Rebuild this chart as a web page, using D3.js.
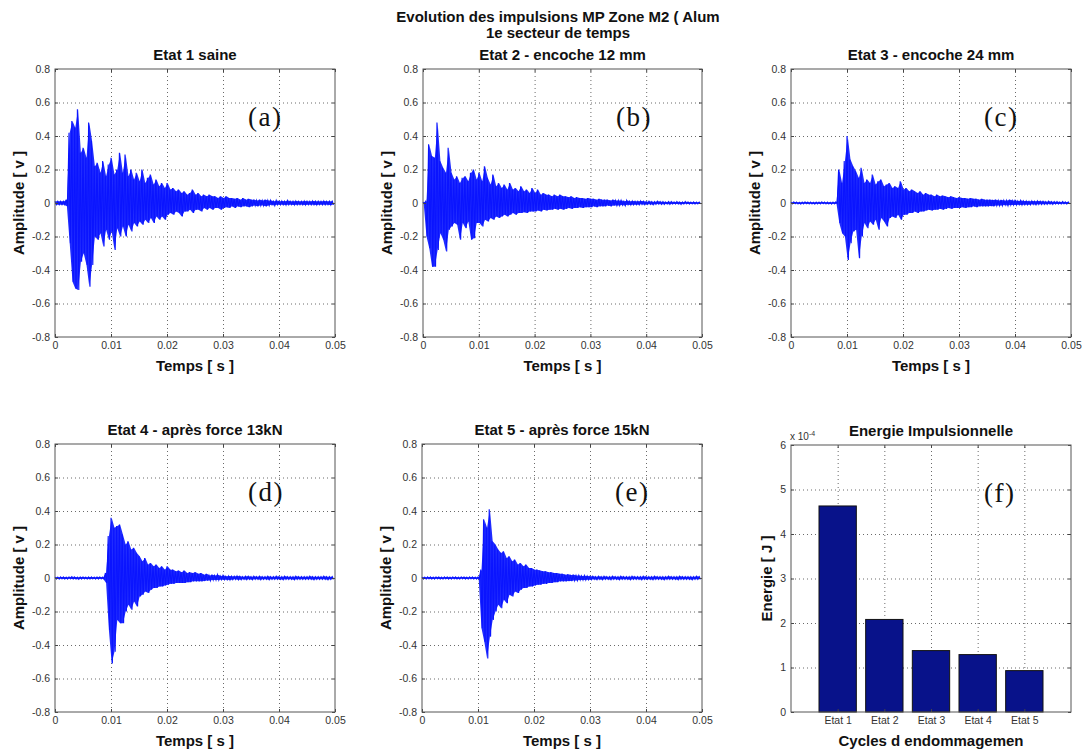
<!DOCTYPE html>
<html><head><meta charset="utf-8">
<script src="https://cdn.jsdelivr.net/npm/d3@7"></script>
<style>body{margin:0;background:#fff}svg{display:block}</style>
</head><body>
<script>
// ---------------- DATA ----------------
const binStep = 0.0005; // s, one hi/lo pair read per bin
const timeTicks = [0, 0.01, 0.02, 0.03, 0.04, 0.05];
const timeTickLabels = ["0", "0.01", "0.02", "0.03", "0.04", "0.05"];
const ampTicks = [-0.8, -0.6, -0.4, -0.2, 0, 0.2, 0.4, 0.6, 0.8];
const ampTickLabels = ["-0.8", "-0.6", "-0.4", "-0.2", "0", "0.2", "0.4", "0.6", "0.8"];

const suptitleLines = ["Evolution des impulsions MP Zone M2 ( Alum", "1e secteur de temps"];
const panelTitles = ["Etat 1 saine", "Etat 2 - encoche 12 mm", "Etat 3 - encoche 24 mm",
  "Etat 4 - après force 13kN", "Etat 5 - après force 15kN", "Energie Impulsionnelle"];
const panelLetters = ["(a)", "(b)", "(c)", "(d)", "(e)", "(f)"];

// Etat 1 saine
const sig1Hi = [0.01,0.01,0.01,0.01,0.02,0.42,0.49,0.45,0.56,0.30,
  0.33,0.27,0.48,0.37,0.22,0.24,0.18,0.25,0.16,0.23,
  0.27,0.17,0.20,0.30,0.18,0.29,0.16,0.20,0.14,0.18,
  0.13,0.20,0.12,0.15,0.17,0.11,0.14,0.10,0.12,0.09,
  0.12,0.08,0.09,0.07,0.08,0.06,0.07,0.05,0.06,0.08,
  0.05,0.06,0.04,0.05,0.04,0.05,0.04,0.04,0.03,0.04,
  0.03,0.04,0.03,0.03,0.025,0.03,0.02,0.03,0.02,0.025,
  0.02,0.02,0.015,0.02,0.015,0.02,0.015,0.015,0.01,0.015,
  0.01,0.012,0.01,0.015,0.01,0.01,0.012,0.01,0.01,0.012,
  0.01,0.01,0.012,0.01,0.01,0.01,0.012,0.01,0.01,0.01];
const sig1Lo = [-0.01,-0.01,-0.01,-0.01,-0.02,-0.24,-0.47,-0.51,-0.52,-0.35,
  -0.30,-0.37,-0.50,-0.37,-0.20,-0.22,-0.18,-0.26,-0.16,-0.22,
  -0.17,-0.28,-0.15,-0.20,-0.14,-0.20,-0.13,-0.17,-0.12,-0.14,
  -0.11,-0.13,-0.10,-0.12,-0.09,-0.12,-0.08,-0.10,-0.08,-0.10,
  -0.07,-0.06,-0.07,-0.05,-0.06,-0.08,-0.05,-0.05,-0.04,-0.06,
  -0.04,-0.04,-0.05,-0.03,-0.04,-0.03,-0.04,-0.03,-0.03,-0.04,
  -0.03,-0.025,-0.03,-0.02,-0.03,-0.02,-0.025,-0.02,-0.02,-0.025,
  -0.02,-0.015,-0.02,-0.015,-0.015,-0.02,-0.015,-0.01,-0.015,-0.01,
  -0.01,-0.01,-0.012,-0.01,-0.01,-0.012,-0.01,-0.01,-0.01,-0.012,
  -0.01,-0.01,-0.01,-0.012,-0.01,-0.01,-0.01,-0.01,-0.012,-0.01];

// Etat 2 - encoche 12 mm
const sig2Hi = [0.005,0.01,0.35,0.28,0.27,0.48,0.25,0.21,0.18,0.33,
  0.18,0.14,0.16,0.12,0.15,0.16,0.13,0.18,0.20,0.14,
  0.18,0.13,0.22,0.15,0.11,0.17,0.10,0.12,0.09,0.11,
  0.08,0.12,0.08,0.09,0.07,0.10,0.07,0.08,0.06,0.09,
  0.06,0.08,0.05,0.06,0.05,0.05,0.04,0.05,0.04,0.05,
  0.04,0.04,0.035,0.04,0.03,0.035,0.03,0.03,0.025,0.03,
  0.025,0.025,0.02,0.025,0.02,0.02,0.02,0.015,0.02,0.015,
  0.015,0.015,0.01,0.015,0.01,0.012,0.01,0.01,0.012,0.01,
  0.008,0.01,0.008,0.008,0.01,0.008,0.008,0.006,0.008,0.008,
  0.006,0.008,0.006,0.006,0.008,0.006,0.005,0.006,0.005,0.005];
const sig2Lo = [-0.005,-0.20,-0.27,-0.38,-0.38,-0.28,-0.18,-0.22,-0.29,-0.16,
  -0.14,-0.12,-0.13,-0.22,-0.12,-0.15,-0.11,-0.22,-0.21,-0.12,
  -0.12,-0.14,-0.10,-0.11,-0.09,-0.10,-0.08,-0.09,-0.08,-0.07,
  -0.08,-0.07,-0.06,-0.07,-0.06,-0.06,-0.055,-0.06,-0.05,-0.05,
  -0.05,-0.045,-0.05,-0.04,-0.045,-0.04,-0.04,-0.035,-0.04,-0.035,
  -0.04,-0.035,-0.03,-0.035,-0.03,-0.03,-0.025,-0.03,-0.025,-0.025,
  -0.025,-0.02,-0.025,-0.02,-0.02,-0.02,-0.015,-0.02,-0.015,-0.015,
  -0.015,-0.012,-0.015,-0.01,-0.012,-0.01,-0.01,-0.01,-0.008,-0.01,
  -0.008,-0.008,-0.01,-0.008,-0.006,-0.008,-0.008,-0.006,-0.008,-0.006,
  -0.006,-0.006,-0.008,-0.006,-0.005,-0.006,-0.005,-0.006,-0.005,-0.005];

// Etat 3 - encoche 24 mm
const sig3Hi = [0.005,0.006,0.005,0.004,0.005,0.006,0.005,0.005,0.004,0.005,
  0.005,0.006,0.005,0.005,0.004,0.005,0.006,0.20,0.12,0.25,
  0.40,0.26,0.22,0.19,0.15,0.21,0.12,0.14,0.12,0.17,
  0.11,0.13,0.14,0.10,0.11,0.12,0.09,0.10,0.09,0.13,
  0.08,0.09,0.07,0.08,0.07,0.06,0.07,0.05,0.06,0.05,
  0.05,0.04,0.05,0.04,0.045,0.04,0.035,0.04,0.035,0.03,
  0.035,0.03,0.03,0.025,0.03,0.025,0.025,0.02,0.025,0.02,
  0.02,0.02,0.018,0.02,0.015,0.018,0.015,0.015,0.02,0.015,
  0.015,0.012,0.015,0.012,0.012,0.01,0.012,0.01,0.012,0.01,
  0.01,0.008,0.01,0.008,0.008,0.008,0.006,0.008,0.006,0.006];
const sig3Lo = [-0.005,-0.004,-0.005,-0.006,-0.005,-0.004,-0.005,-0.005,-0.006,-0.005,
  -0.005,-0.004,-0.005,-0.005,-0.006,-0.005,-0.004,-0.12,-0.18,-0.20,
  -0.34,-0.24,-0.17,-0.16,-0.33,-0.20,-0.12,-0.15,-0.11,-0.13,
  -0.10,-0.16,-0.09,-0.11,-0.14,-0.09,-0.08,-0.09,-0.07,-0.10,
  -0.07,-0.07,-0.06,-0.06,-0.05,-0.06,-0.05,-0.05,-0.045,-0.04,
  -0.045,-0.04,-0.04,-0.035,-0.04,-0.035,-0.03,-0.035,-0.03,-0.03,
  -0.03,-0.025,-0.03,-0.025,-0.025,-0.02,-0.025,-0.02,-0.02,-0.02,
  -0.02,-0.018,-0.02,-0.015,-0.015,-0.015,-0.012,-0.015,-0.012,-0.012,
  -0.012,-0.01,-0.012,-0.01,-0.01,-0.01,-0.008,-0.01,-0.008,-0.008,
  -0.008,-0.008,-0.006,-0.008,-0.006,-0.006,-0.006,-0.005,-0.006,-0.005];

// Etat 4 - après force 13kN
const sig4Hi = [0.006,0.005,0.006,0.006,0.005,0.006,0.007,0.006,0.005,0.006,
  0.006,0.005,0.006,0.006,0.005,0.006,0.006,0.005,0.03,0.25,
  0.36,0.30,0.31,0.32,0.26,0.20,0.22,0.17,0.18,0.15,
  0.13,0.10,0.12,0.08,0.09,0.07,0.08,0.06,0.07,0.05,
  0.07,0.05,0.05,0.04,0.045,0.035,0.045,0.03,0.035,0.03,
  0.035,0.025,0.03,0.02,0.025,0.015,0.02,0.015,0.02,0.012,
  0.015,0.01,0.012,0.01,0.01,0.012,0.01,0.008,0.01,0.01,
  0.008,0.01,0.008,0.01,0.008,0.008,0.01,0.008,0.008,0.01,
  0.008,0.008,0.01,0.008,0.008,0.008,0.01,0.008,0.008,0.008,
  0.008,0.01,0.008,0.008,0.008,0.008,0.01,0.008,0.008,0.008];
const sig4Lo = [-0.006,-0.006,-0.005,-0.006,-0.006,-0.005,-0.006,-0.006,-0.007,-0.006,
  -0.005,-0.006,-0.006,-0.005,-0.006,-0.006,-0.005,-0.006,-0.03,-0.31,
  -0.51,-0.44,-0.25,-0.27,-0.27,-0.20,-0.16,-0.19,-0.14,-0.17,
  -0.11,-0.10,-0.08,-0.09,-0.07,-0.06,-0.06,-0.05,-0.05,-0.045,
  -0.04,-0.035,-0.035,-0.03,-0.03,-0.03,-0.03,-0.025,-0.025,-0.02,
  -0.02,-0.02,-0.02,-0.018,-0.015,-0.015,-0.012,-0.012,-0.012,-0.01,
  -0.01,-0.01,-0.012,-0.01,-0.008,-0.01,-0.01,-0.008,-0.01,-0.008,
  -0.01,-0.008,-0.008,-0.01,-0.008,-0.008,-0.01,-0.008,-0.008,-0.008,
  -0.008,-0.01,-0.008,-0.008,-0.008,-0.01,-0.008,-0.008,-0.008,-0.008,
  -0.008,-0.008,-0.01,-0.008,-0.008,-0.008,-0.008,-0.01,-0.008,-0.008];

// Etat 5 - après force 15kN
const sig5Hi = [0.006,0.005,0.006,0.006,0.005,0.006,0.006,0.005,0.006,0.006,
  0.005,0.006,0.006,0.005,0.006,0.006,0.005,0.006,0.006,0.005,
  0.006,0.05,0.35,0.30,0.41,0.22,0.20,0.17,0.15,0.16,
  0.12,0.13,0.10,0.11,0.08,0.09,0.07,0.08,0.06,0.06,
  0.05,0.05,0.045,0.04,0.04,0.035,0.035,0.03,0.03,0.025,
  0.025,0.02,0.022,0.018,0.02,0.015,0.015,0.012,0.014,0.012,
  0.01,0.01,0.008,0.01,0.008,0.01,0.008,0.008,0.01,0.008,
  0.008,0.01,0.008,0.008,0.008,0.01,0.008,0.008,0.008,0.01,
  0.008,0.008,0.008,0.01,0.008,0.008,0.008,0.008,0.01,0.008,
  0.008,0.008,0.01,0.008,0.008,0.008,0.008,0.008,0.01,0.008];
const sig5Lo = [-0.006,-0.006,-0.005,-0.006,-0.006,-0.005,-0.006,-0.006,-0.005,-0.006,
  -0.006,-0.005,-0.006,-0.006,-0.005,-0.006,-0.006,-0.005,-0.006,-0.006,
  -0.006,-0.30,-0.38,-0.48,-0.35,-0.25,-0.20,-0.16,-0.18,-0.13,
  -0.15,-0.10,-0.11,-0.08,-0.09,-0.07,-0.06,-0.06,-0.05,-0.05,
  -0.045,-0.04,-0.04,-0.035,-0.035,-0.03,-0.03,-0.025,-0.025,-0.02,
  -0.02,-0.02,-0.018,-0.018,-0.015,-0.015,-0.012,-0.012,-0.012,-0.01,
  -0.01,-0.008,-0.01,-0.008,-0.01,-0.008,-0.008,-0.01,-0.008,-0.008,
  -0.01,-0.008,-0.008,-0.008,-0.01,-0.008,-0.008,-0.008,-0.01,-0.008,
  -0.008,-0.008,-0.01,-0.008,-0.008,-0.008,-0.01,-0.008,-0.008,-0.008,
  -0.008,-0.01,-0.008,-0.008,-0.008,-0.008,-0.01,-0.008,-0.008,-0.008];

// Energie Impulsionnelle
const energyCategories = ["Etat 1", "Etat 2", "Etat 3", "Etat 4", "Etat 5"];
const energyValues = [4.63e-4, 2.08e-4, 1.38e-4, 1.29e-4, 0.93e-4]; // J
const energyTicks = [0, 1e-4, 2e-4, 3e-4, 4e-4, 5e-4, 6e-4];
const energyTickLabels = ["0", "1", "2", "3", "4", "5", "6"];

// ---------------- DRAWING ----------------
const W = 1082, H = 751;
const FONT = "'Liberation Sans', Arial, Helvetica, sans-serif";
const svg = d3.select("body").append("svg").attr("width", W).attr("height", H)
  .style("font-family", FONT);

const boxes = [[55, 335, 69, 337], [423, 702, 69, 337], [791, 1071, 69, 337],
  [55, 335, 444, 712], [422, 702, 444, 712]];
const signals = [[sig1Hi, sig1Lo], [sig2Hi, sig2Lo], [sig3Hi, sig3Lo], [sig4Hi, sig4Lo], [sig5Hi, sig5Lo]];

function styleAxis(sel) {
  sel.select(".domain").remove();
  sel.selectAll(".tick line").attr("stroke", "#444").attr("stroke-width", 1);
  sel.selectAll(".tick text").attr("fill", "#333").style("font-size", "10.5px").style("font-family", FONT);
}
function gridStyle(sel) {
  sel.select(".domain").remove();
  sel.selectAll(".tick line").attr("stroke", "#6a6a6a").attr("stroke-dasharray", "1,3").attr("stroke-width", 1);
}

function frame(g, x, y, x0, x1, y0, y1, xv, xl, yv, yl) {
  g.append("g").attr("transform", `translate(0,${y1})`)
    .call(d3.axisBottom(x).tickValues(xv).tickFormat((d, i) => xl[i]).tickSizeInner(-3).tickSizeOuter(0).tickPadding(5))
    .call(styleAxis);
  g.append("g").attr("transform", `translate(0,${y0})`)
    .call(d3.axisTop(x).tickValues(xv).tickFormat("").tickSizeInner(-3).tickSizeOuter(0))
    .call(styleAxis);
  g.append("g").attr("transform", `translate(${x0},0)`)
    .call(d3.axisLeft(y).tickValues(yv).tickFormat((d, i) => yl[i]).tickSizeInner(-3).tickSizeOuter(0).tickPadding(5))
    .call(styleAxis);
  g.append("g").attr("transform", `translate(${x1},0)`)
    .call(d3.axisRight(y).tickValues(yv).tickFormat("").tickSizeInner(-3).tickSizeOuter(0))
    .call(styleAxis);
  g.append("rect").attr("x", x0).attr("y", y0).attr("width", x1 - x0).attr("height", y1 - y0)
    .attr("fill", "none").attr("stroke", "#555").attr("stroke-width", 1);
}

function labels(g, x0, x1, y0, y1, title, xlab, ylab, ylabX, letter) {
  const cx = (x0 + x1) / 2, cy = (y0 + y1) / 2;
  g.append("text").attr("x", cx).attr("y", y0 - 9).attr("text-anchor", "middle")
    .style("font-size", "15px").style("font-weight", "bold").attr("fill", "#111").text(title);
  g.append("text").attr("x", cx).attr("y", y1 + 34).attr("text-anchor", "middle")
    .style("font-size", "15px").style("font-weight", "bold").attr("fill", "#111").text(xlab);
  g.append("text").attr("transform", `translate(${ylabX},${cy}) rotate(-90)`).attr("text-anchor", "middle")
    .style("font-size", "15px").style("font-weight", "bold").attr("fill", "#111").text(ylab);
  g.append("text").attr("x", x0 + 193).attr("y", y0 + 57)
    .style("font-family", "'Liberation Serif', 'DejaVu Serif', serif").style("font-size", "27px")
    .style("letter-spacing", "1.5px").attr("fill", "#111").text(letter);
}

signals.forEach(([hi, lo], k) => {
  const [x0, x1, y0, y1] = boxes[k];
  const x = d3.scaleLinear().domain([0, 0.05]).range([x0, x1]);
  const y = d3.scaleLinear().domain([-0.8, 0.8]).range([y1, y0]);
  const g = svg.append("g");
  g.append("g").attr("transform", `translate(0,${y1})`)
    .call(d3.axisBottom(x).tickValues(timeTicks.slice(1, -1)).tickFormat("").tickSize(-(y1 - y0)))
    .call(gridStyle);
  g.append("g").attr("transform", `translate(${x0},0)`)
    .call(d3.axisLeft(y).tickValues(ampTicks.slice(1, -1)).tickFormat("").tickSize(-(x1 - x0)))
    .call(gridStyle);
  // dense oscillation core: band between the read hi / lo peaks of each bin
  g.append("path").datum(hi)
    .attr("d", d3.area().x((d, i) => x(i * binStep + binStep / 4)).y0((d, i) => y(lo[i])).y1(d => y(d)))
    .attr("fill", "#1f2bff");
  // individual peaks
  const pts = [];
  hi.forEach((v, i) => { pts.push([i * binStep, v]); pts.push([i * binStep + binStep / 2, lo[i]]); });
  g.append("path").attr("d", d3.line().x(d => x(d[0])).y(d => y(d[1]))(pts))
    .attr("fill", "none").attr("stroke", "#0a14ff").attr("stroke-width", 1.1);
  frame(g, x, y, x0, x1, y0, y1, timeTicks, timeTickLabels, ampTicks, ampTickLabels);
  labels(g, x0, x1, y0, y1, panelTitles[k], "Temps [ s ]", "Amplitude [ v ]", x0 - 31, panelLetters[k]);
});

// Bar panel
(function () {
  const x0 = 791, x1 = 1071, y0 = 445, y1 = 712;
  const x = d3.scaleLinear().domain([0, 6]).range([x0, x1]);
  const y = d3.scaleLinear().domain([0, 6e-4]).range([y1, y0]);
  const pos = energyCategories.map((c, i) => i + 1);
  const g = svg.append("g");
  g.append("g").attr("transform", `translate(0,${y1})`)
    .call(d3.axisBottom(x).tickValues(pos).tickFormat("").tickSize(-(y1 - y0)))
    .call(gridStyle);
  g.append("g").attr("transform", `translate(${x0},0)`)
    .call(d3.axisLeft(y).tickValues(energyTicks.slice(1, -1)).tickFormat("").tickSize(-(x1 - x0)))
    .call(gridStyle);
  g.selectAll("rect.bar").data(energyValues).join("rect").attr("class", "bar")
    .attr("x", (d, i) => x(pos[i] - 0.4)).attr("width", (d, i) => x(pos[i] + 0.4) - x(pos[i] - 0.4))
    .attr("y", d => y(d)).attr("height", d => y(0) - y(d))
    .attr("fill", "#08128a").attr("stroke", "#111").attr("stroke-width", 1);
  frame(g, x, y, x0, x1, y0, y1, pos, energyCategories, energyTicks, energyTickLabels);
  labels(g, x0, x1, y0, y1, panelTitles[5], "Cycles d endommagemen", "Energie [ J ]", x0 - 19, panelLetters[5]);
  const ex = g.append("text").attr("x", x0 - 1).attr("y", y0 - 5).style("font-size", "10px").attr("fill", "#333");
  ex.append("tspan").text("x 10");
  ex.append("tspan").attr("dy", -4).style("font-size", "7px").text("-4");
})();

// Suptitle
svg.selectAll("text.sup").data(suptitleLines).join("text").attr("class", "sup")
  .attr("x", 558).attr("y", (d, i) => 22 + i * 16).attr("text-anchor", "middle")
  .style("font-size", "15px").style("font-weight", "bold").attr("fill", "#111").text(d => d);
</script>
</body></html>
